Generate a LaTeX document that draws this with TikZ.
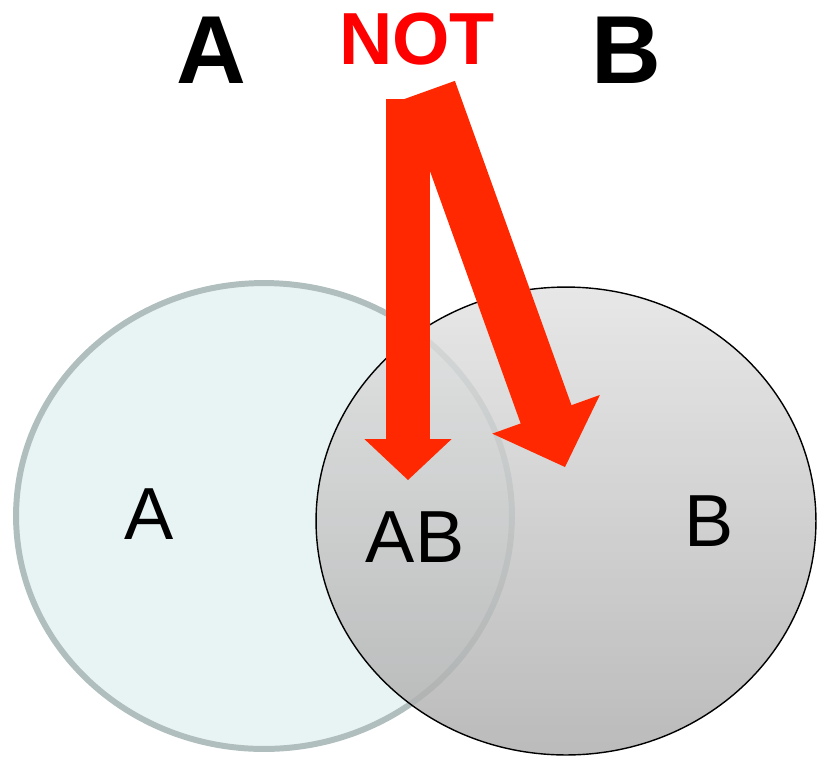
\documentclass[tikz,border=0pt]{standalone}
\usepackage{fontspec}
\setmainfont{Liberation Sans}
\usepackage{xcolor}
\usetikzlibrary{arrows.meta, shapes.geometric, positioning}

\definecolor{setAfill}{RGB}{232,243,244}
\definecolor{setAline}{RGB}{176,190,190}
\definecolor{setBtop}{RGB}{226,226,226}
\definecolor{setBbottom}{RGB}{172,172,172}
\definecolor{arrowred}{RGB}{255,40,0}
\definecolor{notred}{RGB}{255,0,0}

\begin{document}
\begin{tikzpicture}[
    % GLOBAL CFG (1 unit = 1 pixel of the original)
    x=0.02cm, y=-0.02cm,
    % Styles
    setcircle/.style={% For the two sets
        ellipse,
        inner sep=0pt,
        },
    title/.style={% For the big letters on top
        font=\bfseries\fontsize{55}{60}\selectfont,
        inner sep=0pt,
        },
    setlabel/.style={%For the letters inside the sets
        font=\fontsize{42}{46}\selectfont,
        inner sep=0pt,
        },
    BlockArrow/.style={% Fat red arrows
        draw=arrowred,
        line cap=butt,
        },
    ]

    \useasboundingbox (0,0) rectangle (818,765);

    % Draw the sets:
    \node [setcircle, draw=setAline, line width=3.4pt, fill=setAfill,
        minimum width=9.92cm, minimum height=9.32cm] (setA) at (264, 516) {};
    \node [setcircle, draw=black, line width=0.8pt, top color=setBtop, bottom color=setBbottom,
        fill opacity=0.82, minimum width=10cm, minimum height=9.36cm] (setB) at (566, 521) {};

    % Labels
    \node [setlabel] (labA) at (149, 514) {A};
    \node [setlabel] (labAB) at (415, 537) {AB};
    \node [setlabel] (labB) at (709, 521) {B};

    \node [title] (titleA) at (211.5, 50.5) {A};
    \node [title] (titleB) at (626, 50.5) {B};
    \node [title, font=\bfseries\fontsize{42}{46}\selectfont, text=notred] (titleNOT) at (417, 39) {NOT};

    % Arrows from NOT
    \coordinate (tailAB) at (408, 99);
    \coordinate (tipAB) at (408, 480);
    \coordinate (tailB) at (429.5, 90);
    \coordinate (tipB) at (565, 467);
    \draw [BlockArrow, line width=0.88cm,
        -{Triangle[width=1.74cm, length=0.82cm, line width=1pt]}] (tailAB) -- (tipAB);
    \draw [BlockArrow, line width=1.08cm,
        -{Triangle[width=2.28cm, length=1.12cm, line width=1pt]}] (tailB) -- (tipB);
\end{tikzpicture}
\end{document}
